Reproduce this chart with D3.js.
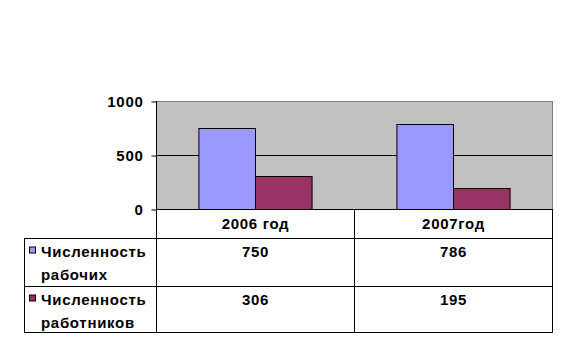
<!DOCTYPE html>
<html>
<head>
<meta charset="utf-8">
<script src="https://cdn.jsdelivr.net/npm/d3@7"></script>
<style>
  html, body { margin: 0; padding: 0; background: #fff; }
  svg { display: block; }
  text { font-family: Arial, "Liberation Sans", sans-serif; font-weight: bold; font-size: 15px; letter-spacing: 0.7px; fill: #000; }
</style>
</head>
<body>
<script>
// Data
const categories = ["2006 год", "2007год"];
const seriesNames = [["Численность", "рабочих"], ["Численность", "работников"]];
const workers = [750, 786];
const employees = [306, 195];
const yTicks = [0, 500, 1000];
const seriesColors = ["#9999FF", "#993366"];

const series = [workers, employees];

const W = 568, H = 349;
const plot = { left: 156, right: 552, top: 101, bottom: 209 };
const table = { left: 24, rowTops: [209, 238, 286, 332] };

const svg = d3.select("body").append("svg")
  .attr("width", W).attr("height", H);

const x = d3.scaleBand().domain(categories).range([plot.left, plot.right]).padding(0);
const bw = x.bandwidth();
const gap = bw * 1.5 / 3.5 / 2;
const xs = d3.scaleBand().domain(d3.range(series.length)).range([gap, bw - gap]).padding(0);
const y = d3.scaleLinear().domain([0, 1000]).range([plot.bottom, plot.top]);

// Plot area background
svg.append("rect")
  .attr("x", plot.left).attr("y", plot.top)
  .attr("width", plot.right - plot.left).attr("height", plot.bottom - plot.top)
  .attr("fill", "#C0C0C0").attr("stroke", "#808080").attr("stroke-width", 1)
  .attr("shape-rendering", "crispEdges");

// Gridlines
svg.append("g").selectAll("line")
  .data(yTicks.filter(t => t > 0 && t < 1000))
  .join("line")
  .attr("x1", plot.left).attr("x2", plot.right)
  .attr("y1", d => y(d) + 0.5).attr("y2", d => y(d) + 0.5)
  .attr("stroke", "#000");

// Bars
series.forEach((vals, si) => {
  svg.append("g").selectAll("rect")
    .data(vals)
    .join("rect")
    .attr("x", (d, i) => x(categories[i]) + xs(si) + 0.5)
    .attr("y", d => Math.round(y(d)) + 0.5)
    .attr("width", xs.bandwidth())
    .attr("height", d => Math.round(y(0)) - Math.round(y(d)))
    .attr("fill", seriesColors[si])
    .attr("stroke", "#000").attr("stroke-width", 1);
});

// Value axis
const yAxis = d3.axisLeft(y).tickValues(yTicks).tickSize(5).tickPadding(8).tickFormat(d3.format("d"));
const ag = svg.append("g").attr("transform", `translate(${plot.left + 0.5},0.5)`).call(yAxis);
ag.select(".domain").remove();
ag.selectAll("line").attr("stroke", "#000");
ag.selectAll("text").attr("font-size", null).attr("font-family", null).attr("fill", "#000");

// Data table lines
const lines = svg.append("g").attr("stroke", "#000").attr("stroke-width", 1).attr("shape-rendering", "crispEdges");
const colEdges = [plot.left, x(categories[1]), plot.right];
// Axis line running down through the table
lines.append("line").attr("x1", plot.left + 0.5).attr("x2", plot.left + 0.5).attr("y1", plot.top).attr("y2", table.rowTops[3] + 0.5);
colEdges.slice(1).forEach(cx => {
  lines.append("line").attr("x1", cx + 0.5).attr("x2", cx + 0.5).attr("y1", table.rowTops[0]).attr("y2", table.rowTops[3] + 0.5);
});
lines.append("line").attr("x1", table.left + 0.5).attr("x2", table.left + 0.5).attr("y1", table.rowTops[1]).attr("y2", table.rowTops[3] + 0.5);
lines.append("line").attr("x1", plot.left).attr("x2", plot.right + 1).attr("y1", table.rowTops[0] + 0.5).attr("y2", table.rowTops[0] + 0.5);
table.rowTops.slice(1).forEach(ty => {
  lines.append("line").attr("x1", table.left).attr("x2", plot.right + 1).attr("y1", ty + 0.5).attr("y2", ty + 0.5);
});

// Category headers
svg.append("g").selectAll("text")
  .data(categories)
  .join("text")
  .attr("x", d => x(d) + bw / 2 + 0.5)
  .attr("y", (table.rowTops[0] + table.rowTops[1]) / 2 + 5)
  .attr("text-anchor", "middle")
  .text(d => d);

// Series rows: legend key, name and values
series.forEach((vals, si) => {
  const top = table.rowTops[si + 1];
  const base = top + 18.5;
  svg.append("rect")
    .attr("x", 29.5).attr("y", base - 9.5)
    .attr("width", 6).attr("height", 6)
    .attr("fill", seriesColors[si]).attr("stroke", "#000").attr("stroke-width", 1);
  const t = svg.append("text").attr("x", 41).attr("y", base);
  seriesNames[si].forEach((s, li) => {
    t.append("tspan").attr("x", 41).attr("y", base + li * 23).text(s);
  });
  svg.append("g").selectAll("text")
    .data(vals)
    .join("text")
    .attr("x", (d, i) => x(categories[i]) + bw / 2 + 0.5)
    .attr("y", base)
    .attr("text-anchor", "middle")
    .text(d => d);
});
</script>
</body>
</html>
